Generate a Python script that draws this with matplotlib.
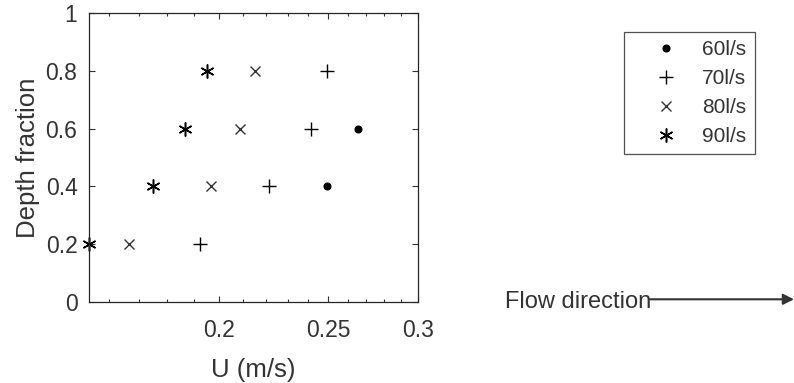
import matplotlib
matplotlib.use('Agg')
import matplotlib.pyplot as plt
from matplotlib.ticker import FixedLocator, NullFormatter

plt.rcParams['font.family'] = ['Liberation Sans', 'DejaVu Sans']

depth = [0.2, 0.4, 0.6, 0.8]
labels = ['60l/s', '70l/s', '80l/s', '90l/s']
# velocity per flow rate, bottom to top (None where not measured)
u_60 = [None, 0.249, 0.2656, None]
u_70 = [0.1926, 0.2215, 0.2415, 0.249]
u_80 = [0.1667, 0.1969, 0.2086, 0.2151]
u_90 = [0.1534, 0.1748, 0.1865, 0.1952]

series = [u_60, u_70, u_80, u_90]
styles = [
    dict(marker='o', markersize=5, color='black', markeredgewidth=0.8),
    dict(marker='+', markersize=10, color='black', markeredgewidth=1.0),
    dict(marker='x', markersize=7, color='#333333', markeredgewidth=1.0),
    dict(marker=(6, 2, 0), markersize=10, color='black', markeredgewidth=1.1),
]


def doPlot():
    fig = plt.figure(figsize=(7.94, 3.83), dpi=100)
    ax = fig.add_axes([0.1115, 0.2115, 0.415, 0.7546])

    for u, lab, st in zip(series, labels, styles):
        xs = [v for v in u if v is not None]
        ys = [d for v, d in zip(u, depth) if v is not None]
        ax.plot(xs, ys, linestyle='none', label=lab, clip_on=False, **st)

    ax.set_xscale('log')
    ax.set_xlim(0.1534, 0.3)
    ax.set_ylim(0, 1)
    ax.xaxis.set_major_locator(FixedLocator([0.2, 0.25, 0.3]))
    ax.xaxis.set_minor_locator(FixedLocator([0.16, 0.17, 0.18, 0.19, 0.21, 0.22, 0.23, 0.24,
                                             0.26, 0.27, 0.28, 0.29]))
    ax.xaxis.set_minor_formatter(NullFormatter())
    ax.set_xticklabels(['0.2', '0.25', '0.3'])
    ax.set_yticks([0, 0.2, 0.4, 0.6, 0.8, 1])
    ax.set_yticklabels(['0', '0.2', '0.4', '0.6', '0.8', '1'])

    ax.tick_params(which='both', direction='in', top=True, right=True,
                   labelsize=16.5, colors='#333333', width=0.8)
    ax.tick_params(which='major', length=4)
    ax.tick_params(which='minor', length=2)
    ax.tick_params(axis='x', pad=12)
    ax.tick_params(axis='y', pad=8)
    for s in ax.spines.values():
        s.set_color('#262626')
        s.set_linewidth(0.9)

    ax.set_xlabel('U (m/s)', fontsize=18.5, color='#333333', labelpad=12)
    ax.set_ylabel('Depth fraction', fontsize=18.5, color='#333333', labelpad=4)

    leg = ax.legend(loc='upper left', bbox_to_anchor=(624 / 794, 1 - 31.7 / 383),
                    bbox_transform=fig.transFigure, fontsize=15, frameon=True,
                    fancybox=False, borderpad=0.4, labelspacing=0.48,
                    handlelength=3.2, handletextpad=0.15, borderaxespad=0)
    leg.get_frame().set_edgecolor('#262626')
    leg.get_frame().set_linewidth(0.9)
    for t in leg.get_texts():
        t.set_color('#333333')

    fig.text(505 / 794, 1 - 301.5 / 383, 'Flow direction', fontsize=17,
             color='#333333', ha='left', va='center')
    ax.annotate('', xy=(794, 383 - 299.3), xytext=(650, 383 - 299.3),
                xycoords='figure pixels', textcoords='figure pixels',
                arrowprops=dict(arrowstyle='-|>', color='#333333', lw=1.5,
                                mutation_scale=16, shrinkA=0, shrinkB=0))

    fig.savefig('out.png', dpi=100)


def main():
    doPlot()


if __name__ == '__main__':
    main()
